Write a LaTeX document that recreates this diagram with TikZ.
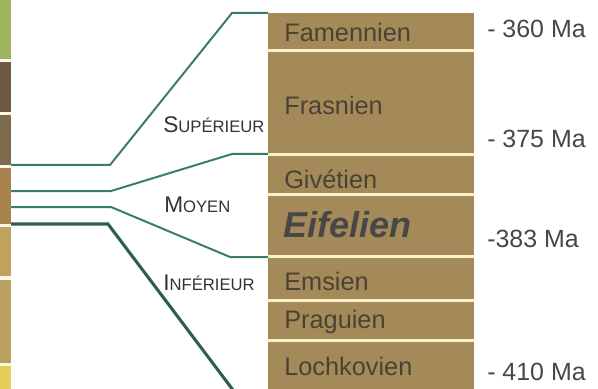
\documentclass[tikz,border=0pt]{standalone}
\usepackage{fontspec}
\setmainfont{Liberation Sans}
\definecolor{bandbrown}{HTML}{A48A58}
\definecolor{sepcream}{HTML}{FBF0C8}
\definecolor{bandtextc}{HTML}{4A4234}
\definecolor{linkteal}{HTML}{3B7D6C}
\definecolor{linkdark}{HTML}{2C5F4F}
\definecolor{stripgreen}{HTML}{9DB55E}
\definecolor{stripdark}{HTML}{6E5A42}
\definecolor{stripgrey}{HTML}{7D6B4E}
\definecolor{stripbrown}{HTML}{A6834E}
\definecolor{striptanA}{HTML}{BFA25E}
\definecolor{striptanB}{HTML}{B9A060}
\definecolor{stripyellow}{HTML}{E3CE5A}
\begin{document}
\begin{tikzpicture}[x=0.75pt,y=-0.75pt,
  band/.style={fill=bandbrown,draw=none,inner sep=0pt,anchor=north west,minimum width=154.5pt},
  bandtext/.style={anchor=base west,inner sep=0pt,text=bandtextc,font=\fontsize{19}{21}\selectfont},
  agetext/.style={anchor=base west,inner sep=0pt,text=black!72,font=\fontsize{18.7}{20}\selectfont},
  epoch/.style={anchor=base west,inner sep=0pt,text=black!80},
  seg/.style={draw=none,inner sep=0pt,anchor=north west,minimum width=8.25pt},
  link/.style={draw=linkteal,line width=1.5pt},
  linkthick/.style={draw=linkdark,line width=2.3pt}]
\useasboundingbox[fill=white] (0,0) rectangle (598,388);

% stage column
\fill[sepcream] (268,48) rectangle (474,392);
\node[band,minimum height=27pt]    (fam)  at (268,13)  {};
\node[band,minimum height=75.75pt] (fras) at (268,52)  {};
\node[band,minimum height=27.75pt] (giv)  at (268,156) {};
\node[band,minimum height=44.25pt] (eif)  at (268,196) {};
\node[band,minimum height=30.75pt] (ems)  at (268,258) {};
\node[band,minimum height=27.75pt] (prag) at (268,302) {};
\node[band,minimum height=37.5pt]  (loch) at (268,342) {};

\node[bandtext] (tfam)  at (284,42)  {Famennien};
\node[bandtext] (tfras) at (284,115) {Frasnien};
\node[bandtext] (tgiv)  at (284,188) {Givétien};
\node[bandtext,font=\fontsize{27}{29}\selectfont\bfseries\itshape,text=black!72] (teif) at (283,237) {Eifelien};
\node[bandtext] (tems)  at (284,290) {Emsien};
\node[bandtext] (tprag) at (284,328) {Praguien};
\node[bandtext] (tloch) at (284,375) {Lochkovien};

% ages
\node[agetext] (a360) at (487,38)  {- 360 Ma};
\node[agetext] (a375) at (487,148) {- 375 Ma};
\node[agetext] (a383) at (487,247) {-383 Ma};
\node[agetext] (a410) at (487,380) {- 410 Ma};

% epochs
\node[epoch] (sup) at (163,133) {\fontsize{17}{19}\selectfont S\fontsize{12.5}{14}\selectfont UPÉRIEUR};
\node[epoch] (moy) at (164,212) {\fontsize{17}{19}\selectfont M\fontsize{12.5}{14}\selectfont OYEN};
\node[epoch] (inf) at (163,290) {\fontsize{17}{19}\selectfont I\fontsize{12.5}{14}\selectfont NFÉRIEUR};

% period strip on the left
\fill[sepcream!50] (0,0) rectangle (11,392);
\node[seg,fill=stripgreen,minimum height=44.25pt]  (s1) at (0,0)   {};
\node[seg,fill=stripdark,minimum height=37.5pt]    (s2) at (0,62)  {};
\node[seg,fill=stripgrey,minimum height=37.5pt]    (s3) at (0,115) {};
\node[seg,fill=stripbrown,minimum height=42pt]     (s4) at (0,168) {};
\node[seg,fill=striptanA,minimum height=36.75pt]   (s5) at (0,227) {};
\node[seg,fill=striptanB,minimum height=62.25pt]   (s6) at (0,280) {};
\node[seg,fill=stripyellow,minimum height=19.5pt]  (s7) at (0,366) {};

% connector points
\coordinate (p1a) at (11,165);  \coordinate (p1b) at (110,165); \coordinate (p1c) at (232,13);
\coordinate (p2a) at (11,191);  \coordinate (p2b) at (111,191); \coordinate (p2c) at (232,154);
\coordinate (e2)  at (268,154);
\coordinate (p3a) at (11,207);  \coordinate (p3b) at (111,207); \coordinate (p3c) at (230,257);
\coordinate (e3)  at (268,257);
\coordinate (p4a) at (11,224);  \coordinate (p4b) at (108,224); \coordinate (e4) at (236,394);

\draw[link] (p1a) -- (p1b) -- (p1c) -- (fam.north west);
\draw[link] (p2a) -- (p2b) -- (p2c) -- (e2);
\draw[link] (p3a) -- (p3b) -- (p3c) -- (e3);
\draw[linkthick] (p4a) -- (p4b) -- (e4);
\end{tikzpicture}
\end{document}
